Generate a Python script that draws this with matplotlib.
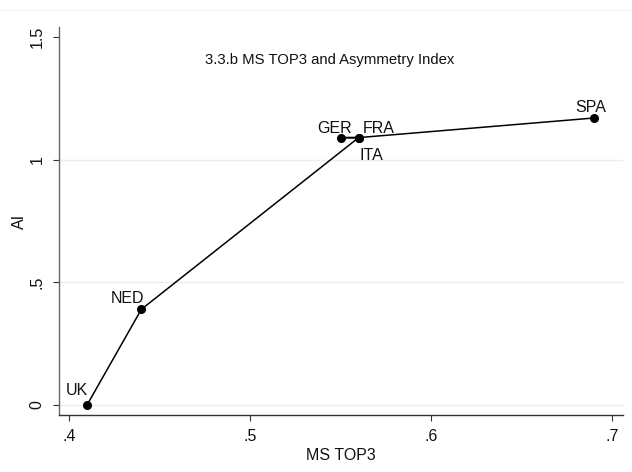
import matplotlib
matplotlib.use("Agg")
import matplotlib.pyplot as plt
from matplotlib.lines import Line2D

# Data (line drawn in this order)
countries = ["UK", "NED", "ITA", "GER", "FRA", "SPA"]
ms_top3 = [0.41, 0.44, 0.56, 0.55, 0.56, 0.69]
ai = [0.00, 0.39, 1.09, 1.09, 1.09, 1.17]

x_ticks = [0.4, 0.5, 0.6, 0.7]
x_ticklabels = [".4", ".5", ".6", ".7"]
y_ticks = [0, 0.5, 1, 1.5]
y_ticklabels = ["0", ".5", "1", "1.5"]

# label placement (pixel offsets, ha)
label_style = {
    "UK": (1, 10, "right"),
    "NED": (3, 6, "right"),
    "GER": (11, 5, "right"),
    "FRA": (4, 5, "left"),
    "ITA": (1, -22, "left"),
    "SPA": (-3, 6, "center"),
}

plt.rcParams["font.family"] = ["Liberation Sans", "DejaVu Sans"]

W, H = 632, 472
fig = plt.figure(figsize=(W / 100, H / 100), dpi=100)
ax = fig.add_axes([59 / W, 1 - 415 / H, (623 - 59) / W, (415 - 27) / H])

ax.set_xlim(0.3945, 0.706)
ax.set_ylim(-0.041, 1.541)

for yv in [0, 0.5, 1]:
    ax.axhline(yv, color="#e6eef0", lw=1.0, zorder=0)

ax.plot(ms_top3, ai, color="black", lw=1.1, zorder=2)
ax.plot(ms_top3, ai, "o", color="black", ms=5.5, zorder=3)

for c, xv, yv in zip(countries, ms_top3, ai):
    dx, dy, ha = label_style[c]
    ax.annotate(c, (xv, yv), xytext=(dx, dy), textcoords="offset pixels",
                ha=ha, va="baseline", fontsize=11.5, color="#111111")

ax.set_xticks(x_ticks)
ax.set_xticklabels(x_ticklabels)
ax.set_yticks(y_ticks)
ax.set_yticklabels(y_ticklabels, rotation=90, va="center")

ax.tick_params(axis="x", length=4.3, width=0.8, color="#333333", pad=6,
               labelsize=11.5, labelcolor="#111111")
ax.tick_params(axis="y", length=4.3, width=0.8, color="#333333", pad=6,
               labelsize=11.5, labelcolor="#111111")

for s in ["top", "right"]:
    ax.spines[s].set_visible(False)
ax.spines["left"].set_color("#666666")
ax.spines["bottom"].set_color("#333333")
ax.spines["left"].set_linewidth(1.0)
ax.spines["bottom"].set_linewidth(1.0)

ax.set_xlabel("MS TOP3", fontsize=11.5, color="#111111", labelpad=3)
ax.set_ylabel("AI", fontsize=11.5, color="#111111", labelpad=2)

fig.text(330 / W, 1 - 60 / H, "3.3.b MS TOP3 and Asymmetry Index",
         ha="center", va="center", fontsize=10.7, color="#111111")

fig.add_artist(Line2D([0, 1], [1 - 10 / H, 1 - 10 / H], color="#f2f2f2",
                      lw=0.8, transform=fig.transFigure))

fig.savefig("out.png", dpi=100, facecolor="white")
